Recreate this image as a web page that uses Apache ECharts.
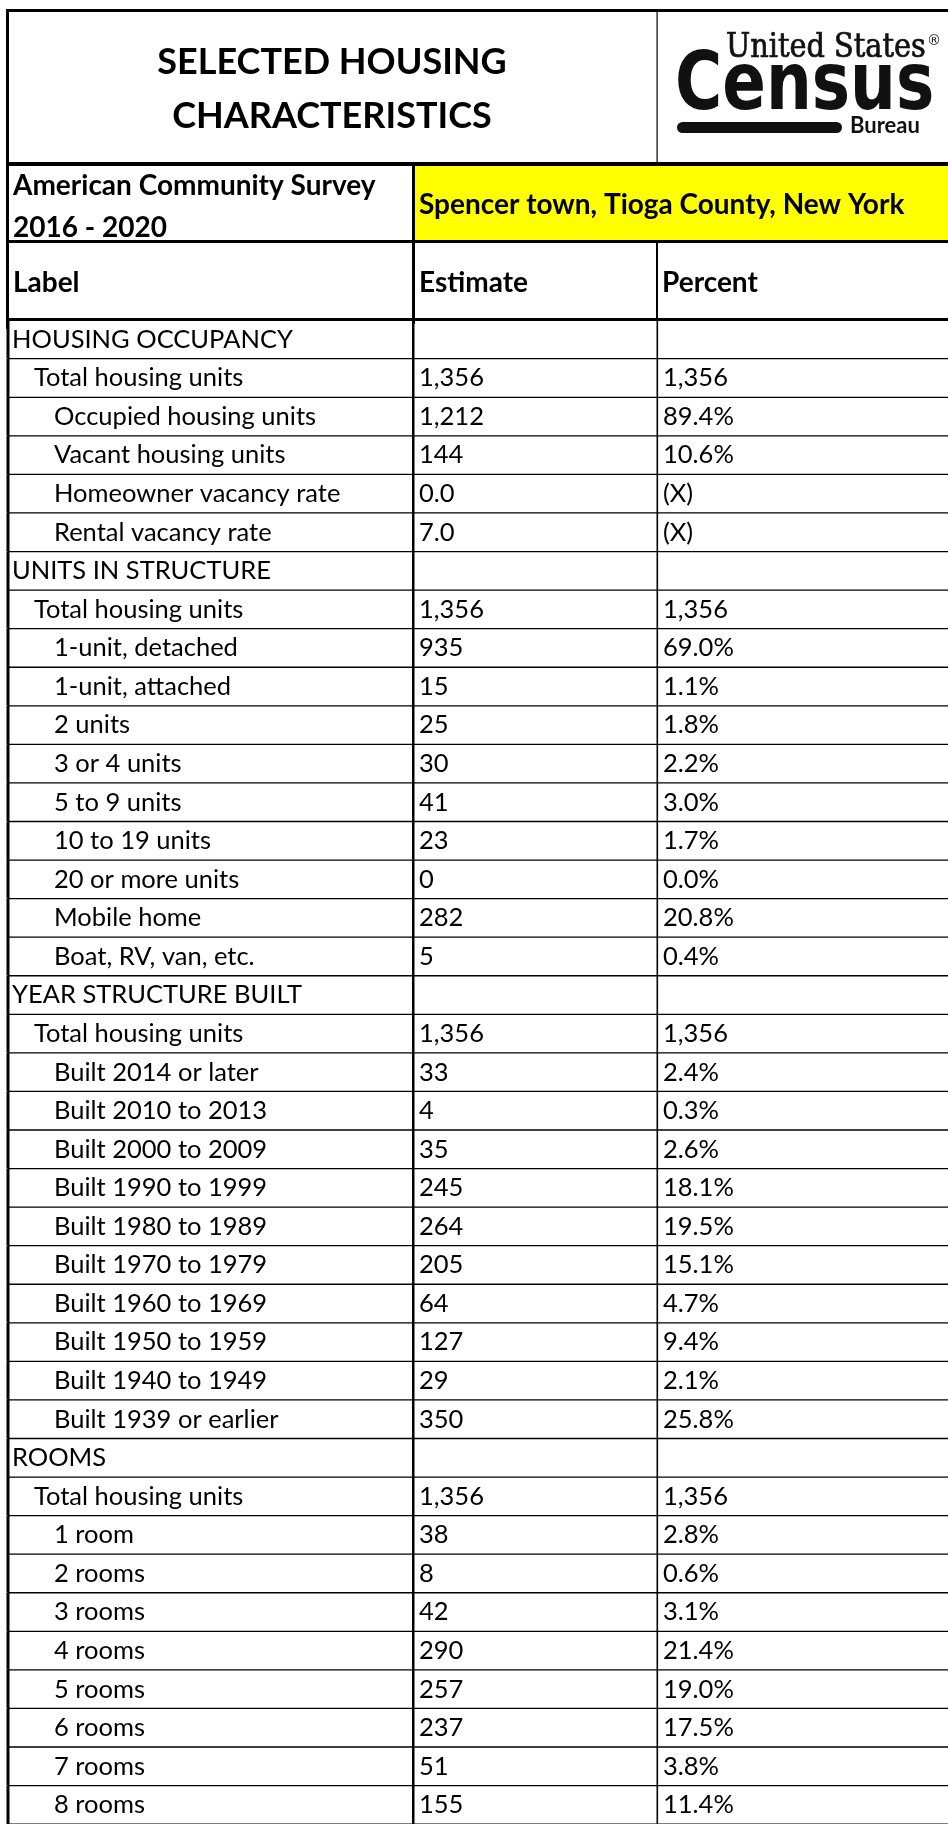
<!DOCTYPE html>
<html>
<head>
<meta charset="utf-8">
<script src="https://cdn.jsdelivr.net/npm/echarts@6/dist/echarts.min.js"></script>
<style>
  html, body { margin: 0; padding: 0; background: #fff; }
  #chart { width: 948px; height: 1824px; }
</style>
</head>
<body>
<div id="chart"></div>
<script>
// table content
const titleLines = ['SELECTED HOUSING', 'CHARACTERISTICS'];
const surveyLines = ['American Community Survey', '2016 - 2020'];
const geography = 'Spencer town, Tioga County, New York';
const columnHeaders = ['Label', 'Estimate', 'Percent'];

const rowLabels = [
  'HOUSING OCCUPANCY', 'Total housing units', 'Occupied housing units', 'Vacant housing units',
  'Homeowner vacancy rate', 'Rental vacancy rate',
  'UNITS IN STRUCTURE', 'Total housing units', '1-unit, detached', '1-unit, attached', '2 units',
  '3 or 4 units', '5 to 9 units', '10 to 19 units', '20 or more units', 'Mobile home', 'Boat, RV, van, etc.',
  'YEAR STRUCTURE BUILT', 'Total housing units', 'Built 2014 or later', 'Built 2010 to 2013',
  'Built 2000 to 2009', 'Built 1990 to 1999', 'Built 1980 to 1989', 'Built 1970 to 1979',
  'Built 1960 to 1969', 'Built 1950 to 1959', 'Built 1940 to 1949', 'Built 1939 or earlier',
  'ROOMS', 'Total housing units', '1 room', '2 rooms', '3 rooms', '4 rooms', '5 rooms', '6 rooms',
  '7 rooms', '8 rooms'
];
// 0 = section, 1 = total, 2 = item
const rowLevels = [
  0, 1, 2, 2, 2, 2,
  0, 1, 2, 2, 2, 2, 2, 2, 2, 2, 2,
  0, 1, 2, 2, 2, 2, 2, 2, 2, 2, 2, 2,
  0, 1, 2, 2, 2, 2, 2, 2, 2, 2
];
const estimates = [
  '', '1,356', '1,212', '144', '0.0', '7.0',
  '', '1,356', '935', '15', '25', '30', '41', '23', '0', '282', '5',
  '', '1,356', '33', '4', '35', '245', '264', '205', '64', '127', '29', '350',
  '', '1,356', '38', '8', '42', '290', '257', '237', '51', '155'
];
const percents = [
  '', '1,356', '89.4%', '10.6%', '(X)', '(X)',
  '', '1,356', '69.0%', '1.1%', '1.8%', '2.2%', '3.0%', '1.7%', '0.0%', '20.8%', '0.4%',
  '', '1,356', '2.4%', '0.3%', '2.6%', '18.1%', '19.5%', '15.1%', '4.7%', '9.4%', '2.1%', '25.8%',
  '', '1,356', '2.8%', '0.6%', '3.1%', '21.4%', '19.0%', '17.5%', '3.8%', '11.4%'
];

// layout
const FONT = 'Lato, "Noto Sans", sans-serif';
const colLeft = [8, 413, 657];
const indent = [4, 26, 46];
const textPad = 6;

const chart = echarts.init(document.getElementById('chart'), null, { renderer: 'canvas' });

function txt(text, x, y, size, bold, align) {
  return {
    type: 'text',
    style: {
      text: text, x: x, y: y,
      font: (bold ? 'bold ' : '') + size + 'px ' + FONT,
      fill: '#000',
      align: align || 'left', textAlign: align || 'left',
      verticalAlign: 'middle', textVerticalAlign: 'middle'
    }
  };
}

function renderRow(params, api) {
  const i = api.value(1);
  const c = api.coord([0, i]);
  const h = api.size([0, 1])[1];
  const top = c[1] - h / 2;
  const bottom = top + h;
  const x0 = api.coord([colLeft[0], i])[0];
  const x1 = api.coord([colLeft[1], i])[0];
  const x2 = api.coord([colLeft[2], i])[0];
  const xEnd = api.coord([948, i])[0];
  const ty = bottom - 19;
  const children = [
    { type: 'rect', shape: { x: x0, y: bottom - 0.5, width: xEnd - x0, height: 1.3 }, style: { fill: '#000' } },
    { type: 'rect', shape: { x: x0 - 1.5, y: top, width: 3, height: h }, style: { fill: '#000' } },
    { type: 'rect', shape: { x: x1 - 1, y: top, width: 2.5, height: h }, style: { fill: '#000' } },
    { type: 'rect', shape: { x: x2 - 0.5, y: top, width: 1.6, height: h }, style: { fill: '#000' } },
    txt(rowLabels[i], x0 + indent[rowLevels[i]], ty, 25.5, false),
    txt(estimates[i], x1 + textPad, ty, 25.5, false),
    txt(percents[i], x2 + textPad, ty, 25.5, false)
  ];
  return { type: 'group', children: children };
}

const option = {
  animation: false,
  grid: { left: 0, top: 320, width: 948, height: 39 * 38.7 },
  xAxis: { type: 'value', min: 0, max: 948, show: false },
  yAxis: {
    type: 'category', inverse: true, show: false,
    data: rowLabels.map((l, i) => i)
  },
  series: [{
    type: 'custom',
    renderItem: renderRow,
    clip: false,
    data: rowLabels.map((l, i) => [0, i])
  }],
  graphic: [
    // frame and header lines
    { type: 'rect', shape: { x: 6, y: 9, width: 942, height: 3 }, style: { fill: '#000' } },
    { type: 'rect', shape: { x: 6, y: 9, width: 3, height: 320 }, style: { fill: '#000' } },
    { type: 'rect', shape: { x: 656.5, y: 12, width: 1.2, height: 152 }, style: { fill: '#000' } },
    { type: 'rect', shape: { x: 414, y: 166, width: 534, height: 74 }, style: { fill: '#ffff00' } },
    { type: 'rect', shape: { x: 6, y: 162, width: 942, height: 4 }, style: { fill: '#000' } },
    { type: 'rect', shape: { x: 412, y: 164, width: 3, height: 160 }, style: { fill: '#000' } },
    { type: 'rect', shape: { x: 6, y: 240, width: 942, height: 3 }, style: { fill: '#000' } },
    { type: 'rect', shape: { x: 656, y: 241, width: 2, height: 80 }, style: { fill: '#000' } },
    { type: 'rect', shape: { x: 6, y: 318, width: 942, height: 3 }, style: { fill: '#000' } },
    // title
    txt(titleLines[0], 332, 62, 36, true, 'center'),
    txt(titleLines[1], 332, 116, 36, true, 'center'),
    // survey / geography
    txt(surveyLines[0], 13, 186, 28, true),
    txt(surveyLines[1], 13, 228, 28, true),
    txt(geography, 419, 205, 28, true),
    // column headers
    txt(columnHeaders[0], 13, 283, 28, true),
    txt(columnHeaders[1], 419, 283, 28, true),
    txt(columnHeaders[2], 662, 283, 28, true),
    // census logo
    {
      type: 'text', x: 726, y: 31, scaleX: 0.94,
      style: { text: 'United States', x: 0, y: 0, font: '34px "DejaVu Serif Condensed", "DejaVu Serif", serif', fill: '#111', stroke: '#111', lineWidth: 0.7, verticalAlign: 'top', textVerticalAlign: 'top' }
    },
    {
      type: 'text', x: 927, y: 34,
      style: { text: '\u00ae', x: 0, y: 0, font: '14px "DejaVu Sans", sans-serif', fill: '#111', verticalAlign: 'top', textVerticalAlign: 'top' }
    },
    {
      type: 'text', x: 675, y: 47, scaleX: 0.795,
      style: { text: 'Census', x: 0, y: 0, font: 'bold 81px "DejaVu Sans", sans-serif', fill: '#111', verticalAlign: 'top', textVerticalAlign: 'top' }
    },
    { type: 'rect', shape: { x: 677, y: 122, width: 165, height: 11, r: 5.5 }, style: { fill: '#111' } },
    {
      type: 'text', x: 850, y: 115,
      style: { text: 'Bureau', x: 0, y: 0, font: 'bold 22px ' + FONT, fill: '#111', verticalAlign: 'top', textVerticalAlign: 'top' }
    }
  ]
};

chart.setOption(option);
</script>
</body>
</html>
